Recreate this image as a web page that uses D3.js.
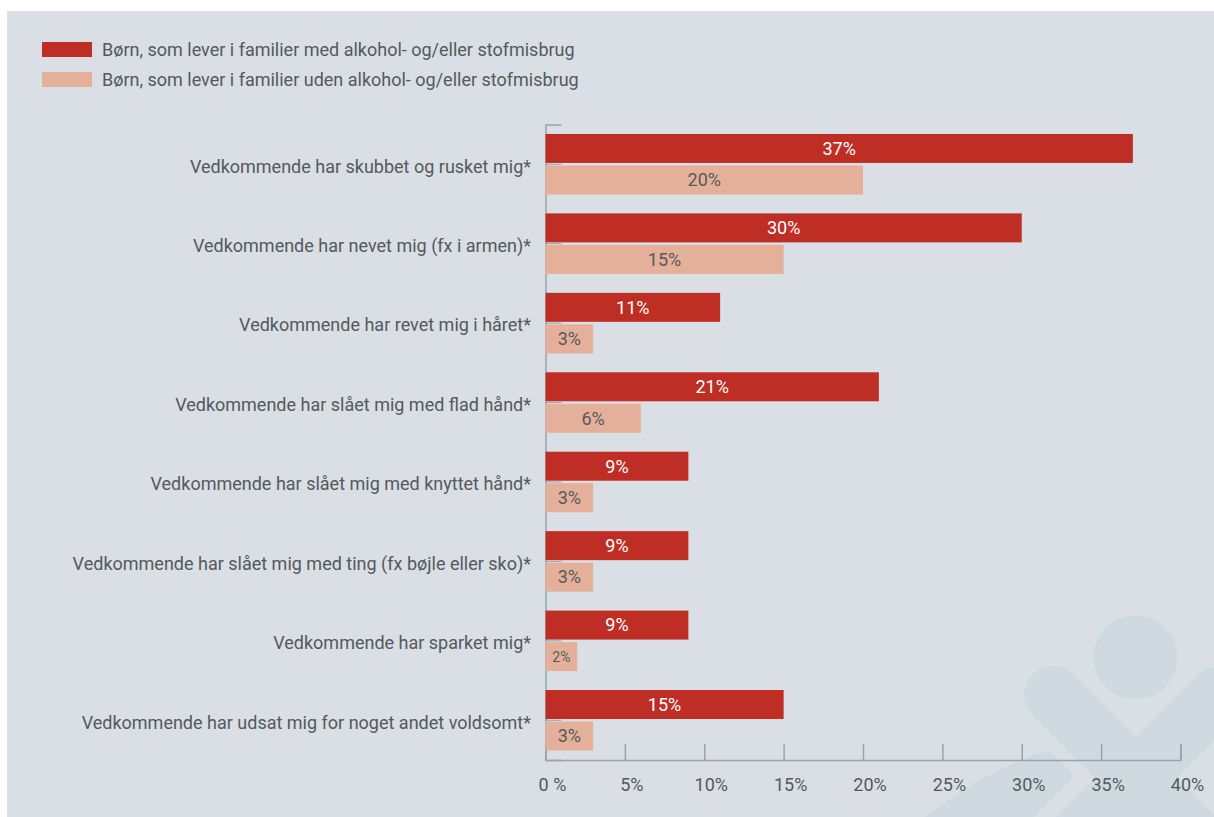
<!DOCTYPE html>
<html>
<head>
<meta charset="utf-8">
<script src="https://d3js.org/d3.v7.min.js"></script>
<style>
  html, body { margin: 0; padding: 0; background: #fff; }
  text { font-family: "Roboto", sans-serif; }
</style>
</head>
<body>
<div id="chart"></div>
<script>
const categories = [
  "Vedkommende har skubbet og rusket mig*",
  "Vedkommende har nevet mig (fx i armen)*",
  "Vedkommende har revet mig i håret*",
  "Vedkommende har slået mig med flad hånd*",
  "Vedkommende har slået mig med knyttet hånd*",
  "Vedkommende har slået mig med ting (fx bøjle eller sko)*",
  "Vedkommende har sparket mig*",
  "Vedkommende har udsat mig for noget andet voldsomt*"
];
const medMisbrug = [37, 30, 11, 21, 9, 9, 9, 15];
const udenMisbrug = [20, 15, 3, 6, 3, 3, 2, 3];
const seriesNames = [
  "Børn, som lever i familier med alkohol- og/eller stofmisbrug",
  "Børn, som lever i familier uden alkohol- og/eller stofmisbrug"
];
const xTicks = [0, 5, 10, 15, 20, 25, 30, 35, 40];

const width = 1214, height = 817;
const red = "#bf2e25", salmon = "#e5b09a", textCol = "#55595c", axisCol = "#98a4ad";
const bg = "#d9dfe5", wm = "#cfdae0";

const svg = d3.select("#chart").append("svg")
    .attr("width", width)
    .attr("height", height)
    .style("display", "block");

svg.append("clipPath").attr("id", "panel")
  .append("rect").attr("x", 7).attr("y", 11).attr("width", width - 7).attr("height", height - 11);

svg.append("rect").attr("x", 7).attr("y", 11).attr("width", width - 7).attr("height", height - 11).attr("fill", bg);

// watermark
const mark = svg.append("g").attr("clip-path", "url(#panel)").attr("fill", wm);
mark.append("circle").attr("cx", 1135.5).attr("cy", 657.5).attr("r", 42);
mark.append("path").attr("d", "M1053,695 L1240,882").attr("stroke", wm).attr("stroke-width", 58).attr("stroke-linecap", "round");
mark.append("path").attr("d", "M1219,695 L1032,882").attr("stroke", wm).attr("stroke-width", 58).attr("stroke-linecap", "round");
mark.append("path").attr("d", "M925,817 Q985,770 1048,750 L1075,776 L1034,817 Z");

const x = d3.scaleLinear().domain([0, 40]).range([545.5, 1180.5]);
const y = d3.scaleBand().domain(categories).range([124.5, 760]);
const inner = d3.scaleBand().domain([0, 1]).range([0, y.bandwidth()]).paddingInner(0.08).paddingOuter(0.3);

// legend
const legend = svg.append("g").selectAll("g").data(seriesNames).enter().append("g")
    .attr("transform", (d, i) => `translate(42,${42 + i * 30})`);
legend.append("rect").attr("width", 50).attr("height", 15).attr("fill", (d, i) => i ? salmon : red);
legend.append("text").attr("x", 60).attr("y", 8).attr("dy", "0.35em")
    .style("font-size", "18px").attr("fill", textCol).text(d => d);

// axes
const yTicks = svg.append("g").attr("transform", "translate(545.5,0)")
    .call(d3.axisRight(y).tickSize(16).tickFormat(""));
yTicks.selectAll("line").attr("stroke", axisCol);
yTicks.select(".domain").attr("stroke", axisCol).attr("stroke-width", 1.5);

const xAxis = svg.append("g").attr("transform", "translate(0,760)")
    .call(d3.axisTop(x).tickValues(xTicks).tickSize(16).tickFormat(""));
xAxis.selectAll("line").attr("stroke", axisCol).attr("stroke-width", 1.5);
xAxis.select(".domain").attr("stroke", axisCol).attr("stroke-width", 1.5);

svg.append("g").selectAll("text").data(xTicks).enter().append("text")
    .attr("x", d => x(d) + 7)
    .attr("y", 785).attr("dy", "0.35em").attr("text-anchor", "middle")
    .style("font-size", "18px").attr("fill", textCol)
    .text(d => d === 0 ? "0 %" : d + "%");

// category labels
svg.append("g").selectAll("text").data(categories).enter().append("text")
    .attr("x", 531)
    .attr("y", d => y(d) + y.bandwidth() / 2 + 2)
    .attr("dy", "0.35em").attr("text-anchor", "end")
    .style("font-size", "18px").attr("fill", textCol)
    .text(d => d);

// bars
[medMisbrug, udenMisbrug].forEach((vals, s) => {
  const g = svg.append("g");
  g.selectAll("rect").data(vals).enter().append("rect")
      .attr("x", x(0))
      .attr("y", (d, i) => y(categories[i]) + inner(s))
      .attr("width", d => x(d) - x(0))
      .attr("height", inner.bandwidth())
      .attr("fill", s ? salmon : red);
  g.selectAll("text").data(vals).enter().append("text")
      .attr("x", d => (x(d) + x(0)) / 2)
      .attr("y", (d, i) => y(categories[i]) + inner(s) + inner.bandwidth() / 2)
      .attr("dy", "0.35em").attr("text-anchor", "middle")
      .style("font-size", d => d === 2 ? "14px" : "18px")
      .attr("fill", s ? textCol : "#fff")
      .text(d => d + "%");
});
</script>
</body>
</html>
